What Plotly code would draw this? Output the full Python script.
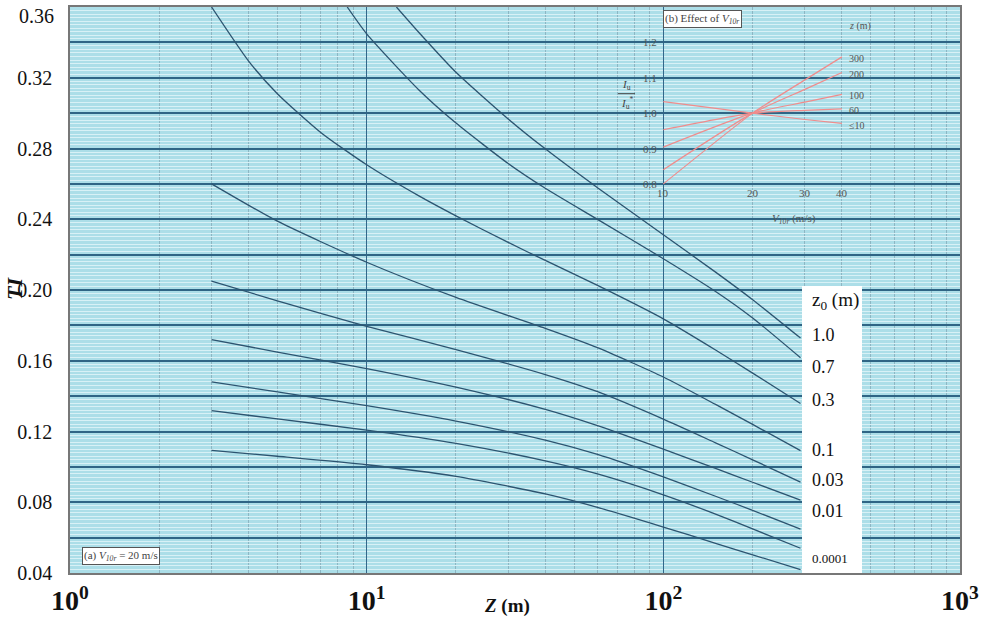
import math
import plotly.graph_objects as go

# ---------------- main panel data (a): TI vs Z for several z0 ----------------
z_a = [12.6, 15, 20, 30, 40, 60, 100, 150, 200, 290]
ti_a = [0.36, 0.3456, 0.3231, 0.2967, 0.2798, 0.2578, 0.2312, 0.2101, 0.1945, 0.1728]

z_b = [8.6, 10, 15, 20, 30, 40, 60, 100, 150, 200, 290]
ti_b = [0.36, 0.3448, 0.3131, 0.2944, 0.2715, 0.2575, 0.2399, 0.2177, 0.1992, 0.1842, 0.1617]

z_c = [3, 4, 5, 7, 10, 15, 20, 30, 40, 60, 100, 150, 200, 290]
ti_c = [0.36, 0.3294, 0.311, 0.2891, 0.2708, 0.2532, 0.2419, 0.2269, 0.2167, 0.2026,
        0.1837, 0.1661, 0.1530, 0.1358]

z_std = [3, 5, 10, 20, 40, 60, 100, 150, 200, 290]
ti_d = [0.26, 0.2389, 0.2157, 0.1958, 0.1783, 0.1674, 0.1508, 0.1353, 0.1240, 0.1092]
ti_e = [0.205, 0.1939, 0.1795, 0.1663, 0.1522, 0.1425, 0.1270, 0.1136, 0.1040, 0.0914]
ti_f = [0.172, 0.1649, 0.1556, 0.1451, 0.1325, 0.1233, 0.1100, 0.0991, 0.0913, 0.0812]
ti_g = [0.148, 0.1424, 0.1346, 0.1259, 0.1151, 0.1070, 0.0943, 0.0834, 0.0754, 0.0648]
ti_h = [0.1318, 0.1271, 0.1208, 0.1133, 0.1034, 0.0960, 0.0842, 0.0733, 0.0649, 0.0540]
ti_i = [0.1093, 0.1060, 0.1012, 0.0946, 0.0847, 0.0771, 0.0660, 0.0568, 0.0503, 0.0419]

curves = [
    (z_a, ti_a), (z_b, ti_b), (z_c, ti_c),
    (z_std, ti_d), (z_std, ti_e), (z_std, ti_f),
    (z_std, ti_g), (z_std, ti_h), (z_std, ti_i),
]

# z0 labels and the TI level at which each label sits in the white key box
label_text = ["1.0", "0.7", "0.3", "0.1", "0.03", "0.01", "0.0001"]
label_ti = [0.1745, 0.1565, 0.138, 0.1093, 0.0925, 0.075, 0.048]

# axis ticks
y_tickvals = [0.04, 0.06, 0.08, 0.10, 0.12, 0.14, 0.16, 0.18, 0.20, 0.22, 0.24,
              0.26, 0.28, 0.30, 0.32, 0.34, 0.36]
y_ticktext = ["0.04", "", "0.08", "", "0.12", "", "0.16", "", "0.20", "", "0.24",
              "", "0.28", "", "0.32", "", ""]
y_top_label = "0.36"
x_tickvals = [1, 10, 100, 1000]
x_ticktext = ["<b>10<sup>0</sup></b>", "<b>10<sup>1</sup></b>",
              "<b>10<sup>2</sup></b>", "<b>10<sup>3</sup></b>"]

# ---------------- inset data (b): Iu/Iu* vs V10r for several z ----------------
v10r = [10, 20, 30, 40]
ratio_300 = [0.80, 1.0, 1.094, 1.159]
ratio_200 = [0.84, 1.0, 1.067, 1.115]
ratio_100 = [0.904, 1.0, 1.031, 1.053]
ratio_60 = [0.953, 1.0, 1.008, 1.012]
ratio_10 = [1.0325, 1.0, 0.982, 0.971]
inset_series = [ratio_300, ratio_200, ratio_100, ratio_60, ratio_10]
inset_labels = ["300", "200", "100", "60", "≤10"]
inset_label_r = [1.155, 1.108, 1.05, 1.008, 0.965]
inset_yticks = [0.8, 0.9, 1.0, 1.1, 1.2]
inset_xticks = [10, 20, 30, 40]

SERIF = "Liberation Serif"
LINE_COL = "#2c5470"
RED = "#f08c8c"

fig = go.Figure()

for zz, tt in curves:
    fig.add_trace(go.Scatter(x=zz, y=tt, mode="lines",
                             line=dict(color=LINE_COL, width=1.3, shape="spline", smoothing=0.6),
                             hoverinfo="skip", showlegend=False))

for rr in inset_series:
    fig.add_trace(go.Scatter(x=v10r, y=rr, mode="lines", xaxis="x2", yaxis="y2",
                             line=dict(color=RED, width=1.2, shape="spline", smoothing=0.6),
                             hoverinfo="skip", showlegend=False))

# paper helpers (plot area in page pixels)
L, R, T, B = 70, 960, 5, 573
def px(x):
    return (x - L) / (R - L)
def py(y):
    return (B - y) / (B - T)

annotations = []
annotations.append(dict(x=px(56), y=py(14), xref="paper", yref="paper",
                        text=y_top_label, showarrow=False, xanchor="right",
                        yanchor="middle", font=dict(family=SERIF, size=20, color="#111")))
annotations.append(dict(x=px(810), y=py(300), xref="paper", yref="paper",
                        text="z<sub>0</sub> (m)", showarrow=False, xanchor="left",
                        yanchor="middle", font=dict(family=SERIF, size=19, color="#111")))
for t, v in zip(label_text, label_ti):
    annotations.append(dict(x=px(810), y=v, xref="paper", yref="y", text=t,
                            showarrow=False, xanchor="left", yanchor="middle",
                            font=dict(family=SERIF, size=13 if t == "0.0001" else 18,
                                      color="#111")))

annotations.append(dict(x=px(82), y=py(565), xref="paper", yref="paper",
                        text="(a) <i>V</i><sub><i>10r</i></sub> = 20 m/s", showarrow=False,
                        xanchor="left", yanchor="bottom", bgcolor="white",
                        bordercolor="#555", borderwidth=1, borderpad=1,
                        font=dict(family=SERIF, size=11, color="#444")))
annotations.append(dict(x=px(663), y=py(8), xref="paper", yref="paper",
                        text="(b) Effect of <i>V</i><sub><i>10r</i></sub>", showarrow=False,
                        xanchor="left", yanchor="top", bgcolor="white",
                        bordercolor="#555", borderwidth=1, borderpad=1,
                        font=dict(family=SERIF, size=11, color="#444")))
for v in inset_yticks:
    annotations.append(dict(x=1, y=v, xref="x2", yref="y2", text=f"{v:.1f}",
                            showarrow=False, xanchor="right", yanchor="middle", xshift=-4,
                            font=dict(family=SERIF, size=11, color="#555")))
for v in inset_xticks:
    annotations.append(dict(x=math.log10(v), y=0.8, xref="x2", yref="y2", text=str(v),
                            showarrow=False, xanchor="center", yanchor="top", yshift=-1,
                            font=dict(family=SERIF, size=11, color="#555")))
annotations.append(dict(x=math.log10(27.5), y=0.70, xref="x2", yref="y2",
                        text="<i>V</i><sub><i>10r</i></sub> (m/s)", showarrow=False,
                        xanchor="center", yanchor="middle",
                        font=dict(family=SERIF, size=11, color="#555")))
annotations.append(dict(x=math.log10(41.5), y=1.245, xref="x2", yref="y2",
                        text="<i>z</i> (m)", showarrow=False, xanchor="left", yanchor="middle",
                        font=dict(family=SERIF, size=10, color="#555")))
for t, v in zip(inset_labels, inset_label_r):
    annotations.append(dict(x=math.log10(41.5), y=v, xref="x2", yref="y2", text=t,
                            showarrow=False, xanchor="left", yanchor="middle",
                            font=dict(family=SERIF, size=10, color="#555")))
annotations.append(dict(x=px(626), y=py(83), xref="paper", yref="paper",
                        text="<i>I</i><sub>u</sub>", showarrow=False,
                        xanchor="center", yanchor="middle",
                        font=dict(family=SERIF, size=11, color="#444")))
annotations.append(dict(x=px(627), y=py(101), xref="paper", yref="paper",
                        text="<i>I</i><sub>u</sub><sup>*</sup>", showarrow=False,
                        xanchor="center", yanchor="middle",
                        font=dict(family=SERIF, size=11, color="#444")))
annotations.append(dict(x=px(507), y=py(606), xref="paper", yref="paper",
                        text="<b><i>Z</i> (m)</b>", showarrow=False,
                        xanchor="center", yanchor="middle",
                        font=dict(family=SERIF, size=19, color="#111")))
annotations.append(dict(x=px(14), y=py(288), xref="paper", yref="paper",
                        text="<b><i>TI</i></b>", showarrow=False, textangle=-90,
                        xanchor="center", yanchor="middle",
                        font=dict(family=SERIF, size=22, color="#111")))

shapes = [
    dict(type="rect", xref="paper", yref="paper", x0=px(802), x1=px(862),
         y0=py(573), y1=py(285), fillcolor="white", line=dict(width=0), layer="above"),
    dict(type="line", xref="paper", yref="paper", x0=px(618), x1=px(635),
         y0=py(92), y1=py(92), line=dict(color="#444", width=1), layer="above"),
]

fig.update_layout(
    width=1002, height=621,
    margin=dict(l=L, r=1002 - R, t=T, b=621 - B),
    paper_bgcolor="white",
    plot_bgcolor="#acdee8",
    showlegend=False,
    annotations=annotations,
    shapes=shapes,
    xaxis=dict(type="log", range=[0, 3], tickvals=x_tickvals, ticktext=x_ticktext,
               tickfont=dict(family=SERIF, size=28, color="#111"),
               showgrid=True, gridcolor="#33678a", gridwidth=1.3,
               minor=dict(dtick="D1", showgrid=True, gridcolor="#8db6c3", gridwidth=1),
               showline=True, linecolor="#777", linewidth=1.5, mirror=True,
               ticks="outside", ticklen=2, tickcolor="rgba(0,0,0,0)", zeroline=False),
    yaxis=dict(range=[0.04, 0.36], tickvals=y_tickvals, ticktext=y_ticktext,
               tickfont=dict(family=SERIF, size=20, color="#111"),
               showgrid=True, gridcolor="#2f6585", gridwidth=1.5,
               minor=dict(dtick=0.002, showgrid=True, gridcolor="#d8f1f6", gridwidth=1),
               showline=True, linecolor="#777", linewidth=1.5, mirror=True,
               ticks="outside", ticklen=12, tickcolor="rgba(0,0,0,0)", zeroline=False),
    xaxis2=dict(type="log", range=[-1, 2], overlaying="x", visible=False),
    yaxis2=dict(range=[-0.3, 1.3], overlaying="y", visible=False),
)

fig.write_html("out.html", config={"displayModeBar": False},
               post_script="document.body.style.margin='0px';")
